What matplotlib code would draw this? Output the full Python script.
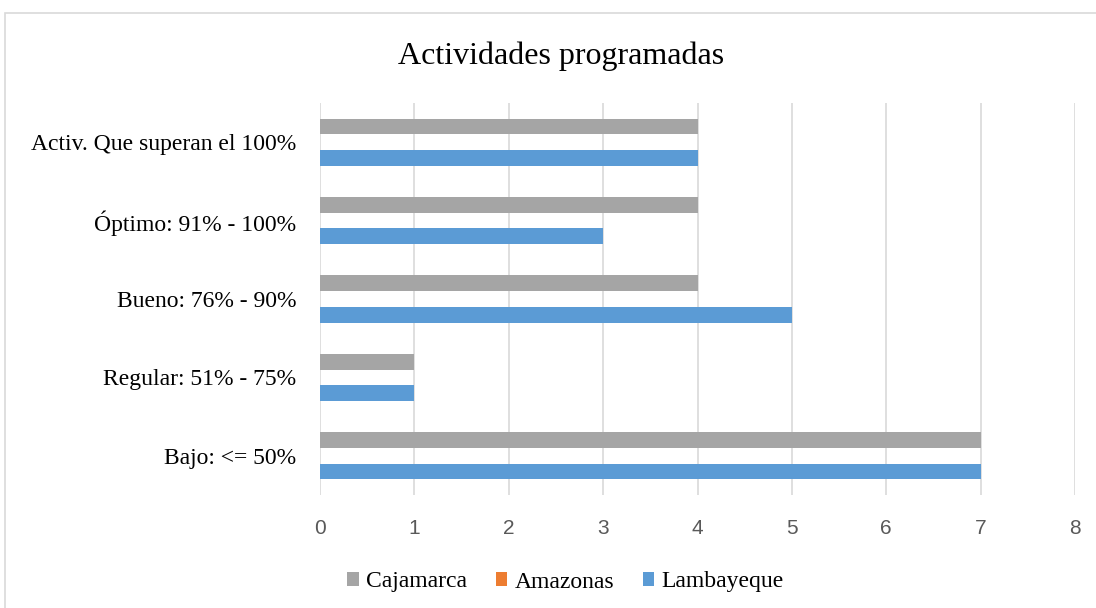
import matplotlib
matplotlib.use("Agg")
import matplotlib.pyplot as plt
import numpy as np
from matplotlib.patches import Rectangle, Patch

categories = [
    "Bajo: <= 50%",
    "Regular: 51% - 75%",
    "Bueno: 76% - 90%",
    "Óptimo: 91% - 100%",
    "Activ. Que superan el 100%",
]
cajamarca = [7, 1, 4, 4, 4]
amazonas = [0, 0, 0, 0, 0]
lambayeque = [7, 1, 5, 3, 4]
x_ticks = [0, 1, 2, 3, 4, 5, 6, 7, 8]

series = [
    ("Cajamarca", cajamarca, "#A5A5A5"),
    ("Amazonas", amazonas, "#ED7D31"),
    ("Lambayeque", lambayeque, "#5B9BD5"),
]

serif = "Liberation Serif"

fig = plt.figure(figsize=(10.96, 6.08), dpi=100)
ax = fig.add_axes([320 / 1096, 1 - 495 / 608, 755 / 1096, 392 / 608])

# outer chart border
fig.patches.append(Rectangle((5 / 1096, -0.05), 1.1, 1 - 13 / 608 + 0.05,
                             transform=fig.transFigure, fill=False,
                             edgecolor="#d9d9d9", linewidth=1.2))

y = np.arange(len(categories))
h = 0.2
offsets = [h, 0, -h]
for (name, vals, color), off in zip(series, offsets):
    ax.barh(y + off, vals, height=h, color=color, label=name, zorder=3)

ax.set_xlim(0, 8)
ax.set_ylim(-0.5, len(categories) - 0.5)
ax.set_xticks(x_ticks)
ax.set_yticks(y)
ax.set_yticklabels(categories, fontfamily=serif, fontsize=17)
ax.tick_params(axis="y", length=0, pad=17)
ax.tick_params(axis="x", length=0, pad=17, labelsize=15, labelcolor="#595959")
for lbl in ax.get_xticklabels():
    lbl.set_fontfamily("Liberation Sans")
ax.grid(axis="x", color="#d9d9d9", linewidth=1.2, zorder=0)
for s in ax.spines.values():
    s.set_visible(False)

fig.text(0.512, 1 - 56 / 608, "Actividades programadas", ha="center", va="center",
         fontfamily=serif, fontsize=23)

handles = [Patch(facecolor=c, label=n) for n, _, c in series]
fig.legend(handles=handles, loc="center", bbox_to_anchor=(0.516, 1 - 582 / 608),
           ncol=3, frameon=False, prop={"family": serif, "size": 17},
           handlelength=0.5, handleheight=0.5, handletextpad=0.3, columnspacing=1.2)

fig.savefig("out.png", dpi=100)
